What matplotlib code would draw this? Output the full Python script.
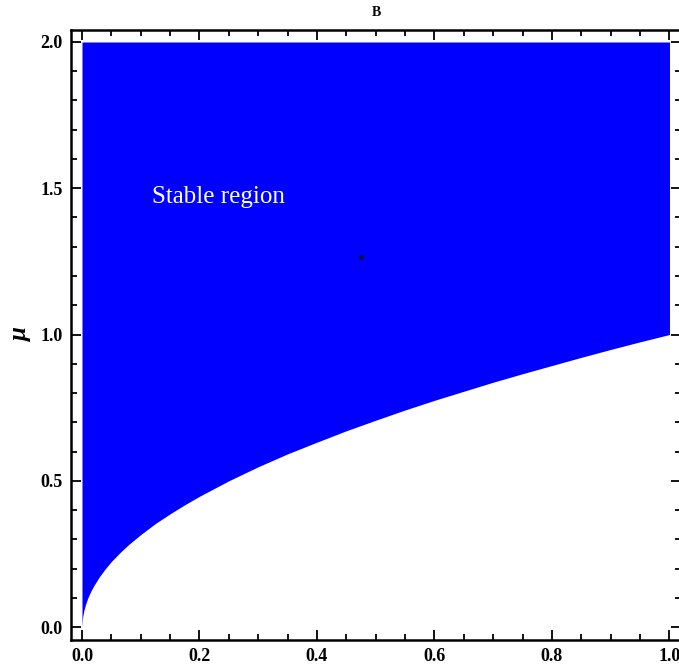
import matplotlib
matplotlib.use("Agg")
from matplotlib import pyplot as plt
from matplotlib.ticker import MultipleLocator
import numpy as np

# boundary of the stable region
x_edge = [0.0, 0.001, 0.003, 0.006, 0.01, 0.015, 0.02, 0.03, 0.04, 0.05, 0.065, 0.08, 0.1,
          0.125, 0.15, 0.175, 0.2, 0.25, 0.3, 0.35, 0.4, 0.45, 0.5, 0.55, 0.6, 0.65,
          0.7, 0.75, 0.8, 0.85, 0.9, 0.95, 1.0]
mu_edge = [0.0, 0.032, 0.055, 0.077, 0.100, 0.122, 0.141, 0.173, 0.200, 0.224, 0.255, 0.283, 0.316,
           0.354, 0.387, 0.418, 0.447, 0.500, 0.548, 0.592, 0.632, 0.671, 0.707, 0.742, 0.775, 0.806,
           0.837, 0.866, 0.894, 0.922, 0.949, 0.975, 1.0]
mu_top = 2.0
dot_x, dot_y = [0.475], [1.265]

plt.rcParams['font.family'] = ['Liberation Serif', 'DejaVu Serif']

fig = plt.figure(figsize=(6.79, 6.67), dpi=100)
ax = fig.add_axes([71/679, 1 - 640/667, (681 - 71)/679, (640 - 30)/667])

ax.fill_between(x_edge, mu_edge, mu_top, color='#0000ff', linewidth=0)
ax.plot(dot_x, dot_y, 'o', color='#101040', markersize=2.5)
ax.text(0.12, 1.45, 'Stable region', color='white', fontsize=18)

ax.set_xlim(-0.0187, 1.0196)
ax.set_ylim(-0.0444, 2.041)
ax.xaxis.set_major_locator(MultipleLocator(0.2))
ax.xaxis.set_minor_locator(MultipleLocator(0.05))
ax.yaxis.set_major_locator(MultipleLocator(0.5))
ax.yaxis.set_minor_locator(MultipleLocator(0.1))
ax.tick_params(which='both', direction='in', top=True, right=True, width=1.3, labelsize=13)
ax.tick_params(which='major', length=7, pad=6)
ax.tick_params(which='minor', length=4)
for lab in ax.get_xticklabels() + ax.get_yticklabels():
    lab.set_fontweight('bold')
for s in ax.spines.values():
    s.set_linewidth(1.8)

ax.set_title('B', fontsize=10, fontweight='bold', pad=10)
ax.set_ylabel('μ', fontsize=18, fontweight='bold', fontstyle='italic', labelpad=6)

fig.savefig('out.png', dpi=100)
